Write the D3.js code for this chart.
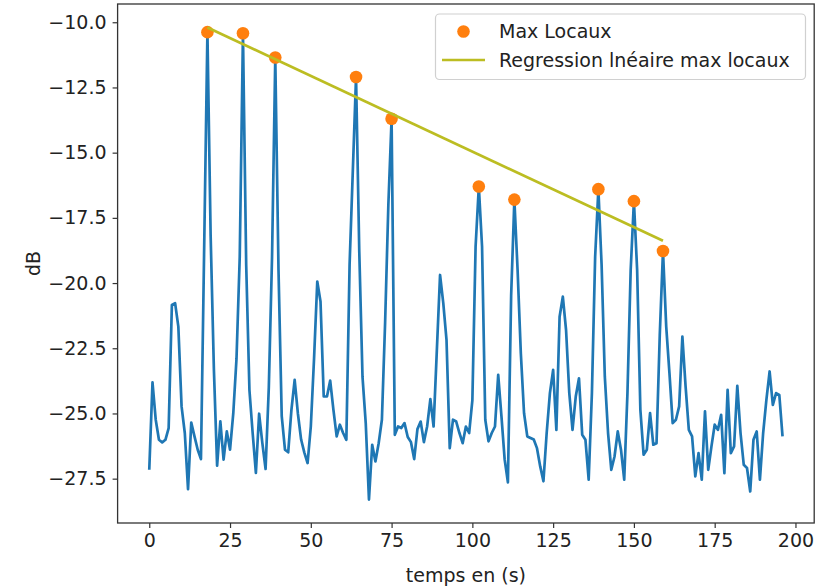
<!DOCTYPE html>
<html>
<head>
<meta charset="utf-8">
<script src="https://cdn.jsdelivr.net/npm/d3@7"></script>
<style>
  html, body { margin: 0; padding: 0; background: #fff; }
  svg { display: block; font-family: "DejaVu Sans", sans-serif; }
</style>
</head>
<body>
<svg id="chart" width="830" height="588"></svg>
<script>
// ---- data ----
const signalValues = [
  -27.16,-23.81,-25.24,-26.01,-26.11,-26.01,-25.56,-20.84,-20.77,-21.67,
  -24.73,-25.75,-27.90,-25.35,-25.88,-26.39,-26.75,-18.6,-10.38,-18.2,
  -23.3,-27.0,-25.3,-26.77,-25.69,-26.39,-25.0,-22.9,-19.0,-10.42,
  -19.3,-24.1,-25.75,-27.28,-25.01,-26.14,-27.13,-24.0,-19.0,-11.35,
  -19.5,-25.1,-26.39,-26.49,-24.86,-23.71,-25.0,-26.0,-26.5,-26.9,
  -25.5,-22.9,-19.94,-20.71,-24.35,-24.35,-23.74,-24.86,-25.88,-25.43,
  -25.75,-26.01,-19.3,-15.7,-12.1,-18.8,-23.6,-25.37,-28.3,-26.2,
  -26.84,-26.14,-25.24,-21.5,-17.0,-13.7,-25.82,-25.5,-25.56,-25.37,
  -25.9,-26.1,-26.75,-25.6,-25.31,-26.1,-25.5,-24.45,-25.5,-22.6,
  -19.69,-20.77,-22.18,-26.33,-25.24,-25.31,-25.75,-26.14,-25.5,-25.75,
  -24.5,-18.6,-16.3,-18.6,-25.24,-26.07,-25.75,-25.5,-23.52,-25.1,
  -26.77,-27.64,-20.5,-16.8,-19.5,-22.69,-24.99,-25.88,-25.94,-26.0,
  -26.33,-27.03,-27.6,-25.75,-24.22,-23.33,-25.63,-21.29,-20.52,-21.8,
  -24.22,-25.63,-24.35,-23.65,-25.82,-26.01,-27.54,-24.22,-19.0,-16.4,
  -19.3,-23.6,-25.75,-27.16,-26.65,-25.69,-26.39,-27.54,-24.22,-19.5,
  -16.86,-19.5,-24.86,-26.58,-26.39,-24.99,-26.2,-26.14,-22.0,-18.77,
  -21.67,-23.45,-25.37,-25.24,-24.73,-22.05,-23.97,-25.63,-25.88,-27.41,
  -26.52,-27.54,-24.92,-27.16,-26.26,-25.43,-25.63,-25.05,-27.29,-24.09,
  -26.52,-26.26,-23.94,-25.75,-26.97,-27.09,-27.99,-26.01,-25.69,-27.54,
  -25.75,-24.48,-23.39,-24.67,-24.22,-24.29,-25.88
];
const signalTimes = signalValues.map((_, i) => i); // one sample per second, 0..196

const maxTimes  = [18, 29, 39, 64, 75, 102, 113, 139, 150, 159];
const maxValues = [-10.38, -10.42, -11.35, -12.1, -13.7, -16.3, -16.8, -16.4, -16.86, -18.77];

const xTicks = [0, 25, 50, 75, 100, 125, 150, 175, 200];
const yTicks = [-10, -12.5, -15, -17.5, -20, -22.5, -25, -27.5];

const xLabel = "temps en (s)";
const yLabel = "dB";
const legendLabels = ["Max Locaux", "Regression lnéaire max locaux"];

// ---- linear regression of the local maxima ----
const mt = d3.mean(maxTimes), mv = d3.mean(maxValues);
let sxy = 0, sxx = 0;
maxTimes.forEach((t, i) => { sxy += (t - mt) * (maxValues[i] - mv); sxx += (t - mt) * (t - mt); });
const slope = sxy / sxx, intercept = mv - slope * mt;
const regTimes = [d3.min(maxTimes), d3.max(maxTimes)];
const regValues = regTimes.map(t => intercept + slope * t);

// ---- layout ----
const plot = { left: 117.6, right: 814.2, top: 4, bottom: 523 };
const FONT = 19;
const TXT = "#222";

const x = d3.scaleLinear().domain([-9.8, 205.8]).range([plot.left, plot.right]);
const y = d3.scaleLinear().domain([-29.2, -9.3]).range([plot.bottom, plot.top]);

const svg = d3.select("#chart");

// clip
svg.append("defs").append("clipPath").attr("id", "clip")
  .append("rect").attr("x", plot.left).attr("y", plot.top)
  .attr("width", plot.right - plot.left).attr("height", plot.bottom - plot.top);

const g = svg.append("g").attr("clip-path", "url(#clip)");

// signal line
g.append("path")
  .datum(signalValues.map((v, i) => [signalTimes[i], v]))
  .attr("fill", "none")
  .attr("stroke", "#1f77b4")
  .attr("stroke-width", 2.7)
  .attr("stroke-linejoin", "round")
  .attr("stroke-linecap", "butt")
  .attr("d", d3.line().x(d => x(d[0])).y(d => y(d[1])));

// local maxima
g.selectAll("circle.max")
  .data(maxTimes.map((t, i) => [t, maxValues[i]]))
  .join("circle")
  .attr("class", "max")
  .attr("cx", d => x(d[0]))
  .attr("cy", d => y(d[1]))
  .attr("r", 6.3)
  .attr("fill", "#ff7f0e");

// regression line
g.append("path")
  .datum(regTimes.map((t, i) => [t, regValues[i]]))
  .attr("fill", "none")
  .attr("stroke", "#bcbd22")
  .attr("stroke-width", 2.7)
  .attr("d", d3.line().x(d => x(d[0])).y(d => y(d[1])));

// axes
const xAxis = svg.append("g")
  .attr("transform", `translate(0,${plot.bottom})`)
  .call(d3.axisBottom(x).tickValues(xTicks).tickFormat(d3.format("d")).tickSize(5).tickPadding(6));
const yAxis = svg.append("g")
  .attr("transform", `translate(${plot.left},0)`)
  .call(d3.axisLeft(y).tickValues(yTicks).tickFormat(d3.format(".1f")).tickSize(5).tickPadding(6));

[xAxis, yAxis].forEach(a => {
  a.select(".domain").remove();
  a.selectAll(".tick line").attr("stroke", "#333").attr("stroke-width", 1.2);
  a.selectAll(".tick text").attr("fill", TXT).style("font-size", FONT + "px")
    .style("font-family", '"DejaVu Sans", sans-serif');
});

// frame
svg.append("rect")
  .attr("x", plot.left).attr("y", plot.top)
  .attr("width", plot.right - plot.left).attr("height", plot.bottom - plot.top)
  .attr("fill", "none").attr("stroke", "#333").attr("stroke-width", 1.3);

// axis labels
svg.append("text")
  .attr("x", (plot.left + plot.right) / 2).attr("y", 582)
  .attr("text-anchor", "middle").attr("fill", TXT).style("font-size", FONT + "px")
  .text(xLabel);
svg.append("text")
  .attr("transform", `translate(40,${(plot.top + plot.bottom) / 2}) rotate(-90)`)
  .attr("text-anchor", "middle").attr("fill", TXT).style("font-size", FONT + "px")
  .text(yLabel);

// legend
const lg = svg.append("g");
lg.append("rect")
  .attr("x", 435.5).attr("y", 14).attr("width", 370).attr("height", 65.5)
  .attr("rx", 4).attr("ry", 4)
  .attr("fill", "rgba(255,255,255,0.8)").attr("stroke", "#d0d0d0").attr("stroke-width", 1.2);
lg.append("circle").attr("cx", 463.5).attr("cy", 31.5).attr("r", 6.3).attr("fill", "#ff7f0e");
lg.append("line").attr("x1", 442).attr("x2", 485).attr("y1", 60).attr("y2", 60)
  .attr("stroke", "#bcbd22").attr("stroke-width", 2.7);
lg.selectAll("text.leg").data(legendLabels).join("text")
  .attr("class", "leg")
  .attr("x", 499).attr("y", (d, i) => 31.5 + i * 28.5)
  .attr("dy", "0.36em")
  .attr("fill", TXT).style("font-size", FONT + "px")
  .text(d => d);
</script>
</body>
</html>
